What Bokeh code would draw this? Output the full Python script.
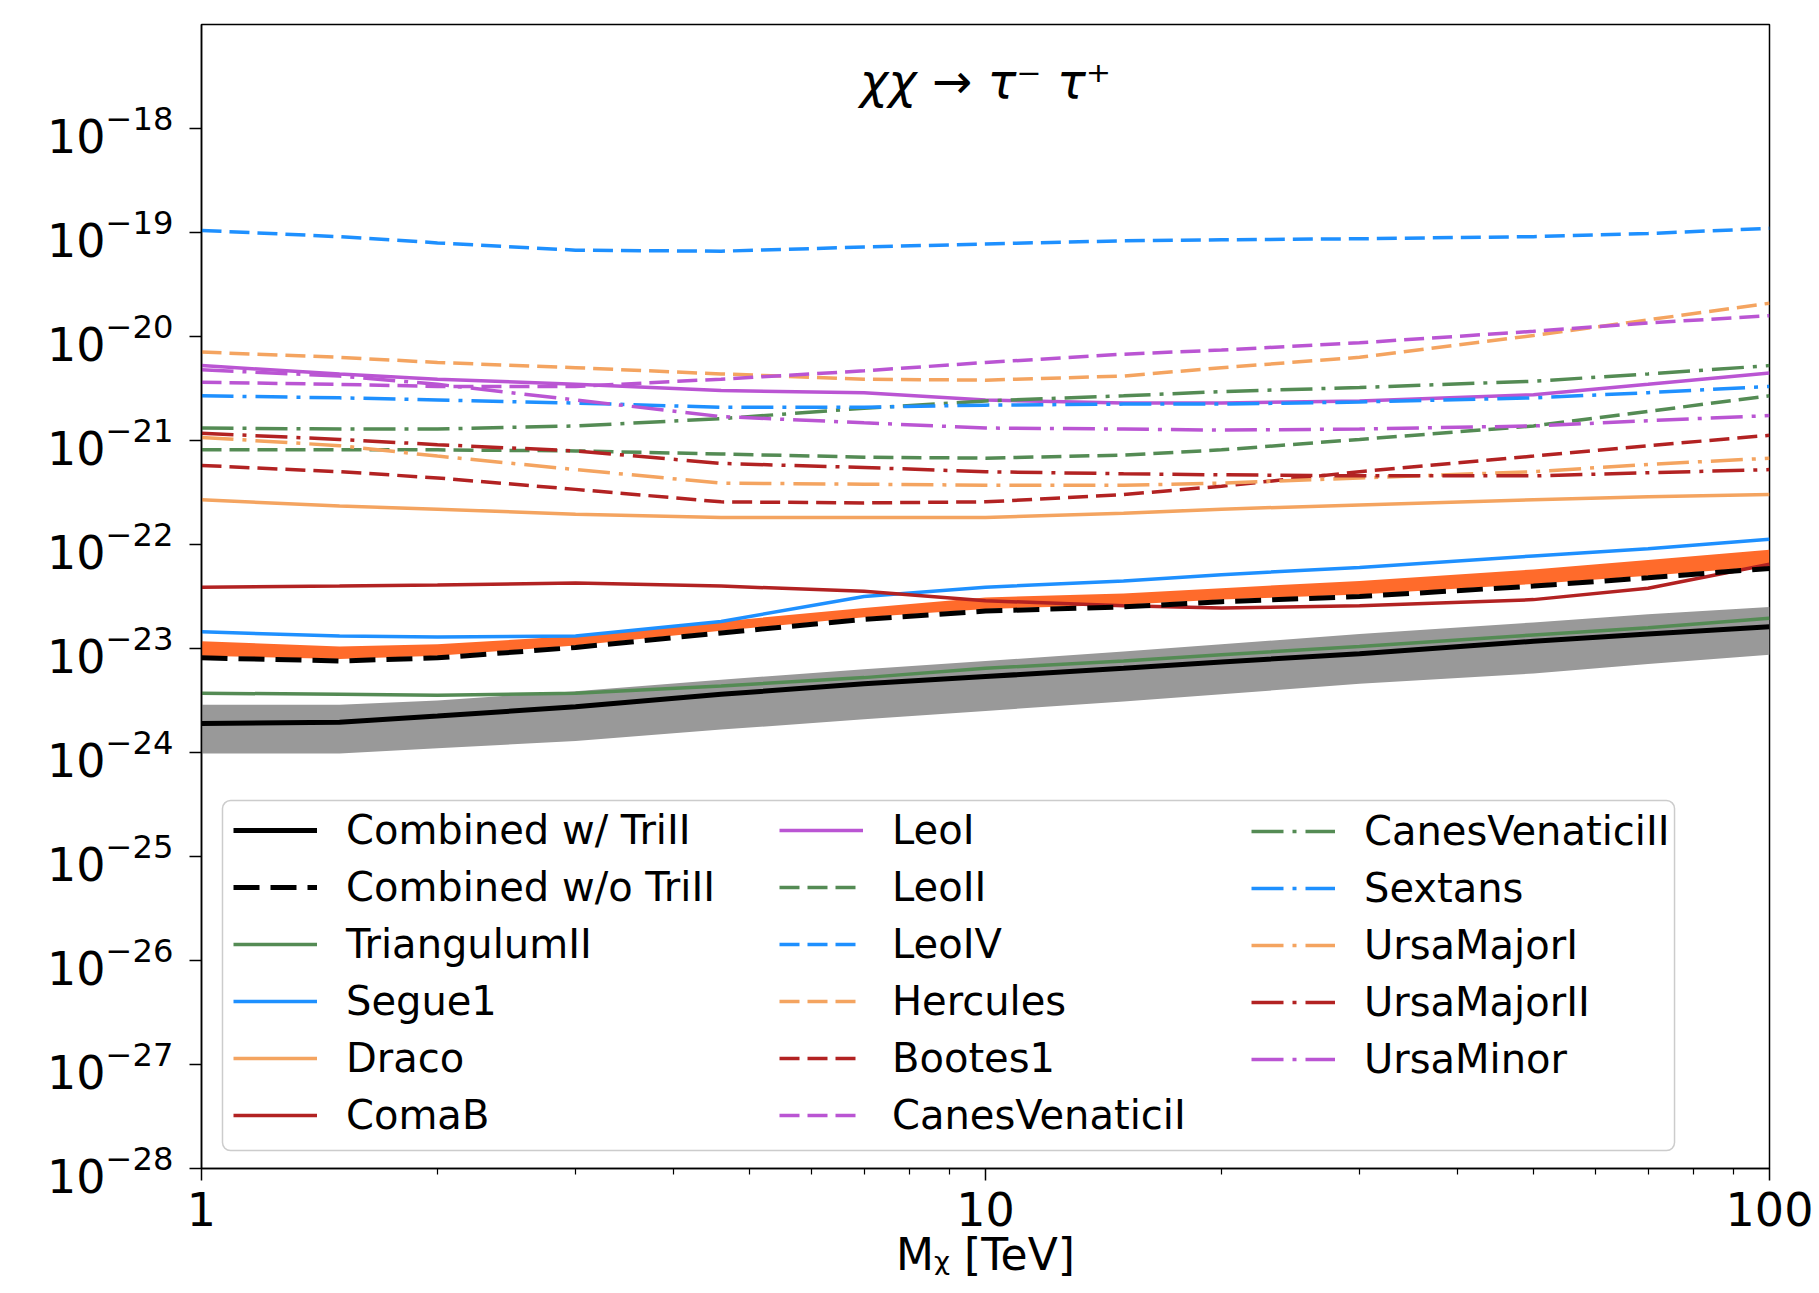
import numpy as np
from bokeh.plotting import figure
from bokeh.models import (Legend, LegendItem, FixedTicker, CustomJSTickFormatter, LogTickFormatter,
                          Label, BoxAnnotation, Range1d)
from bokeh.embed import file_html
from bokeh.resources import INLINE

# ---------------- data (log10 of <sigma v> [cm^3/s]) ----------------
mass_tev = [1, 1.5, 2, 3, 4.6, 7, 10, 15, 20, 30, 50, 70, 100]

combined_w_trii   = [-23.72, -23.71, -23.65, -23.56, -23.44, -23.34, -23.27, -23.19, -23.13, -23.05, -22.93, -22.86, -22.79]
combined_w_hi     = [-23.54, -23.54, -23.50, -23.41, -23.30, -23.20, -23.12, -23.03, -22.96, -22.86, -22.75, -22.67, -22.60]
combined_w_lo     = [-24.01, -24.01, -23.96, -23.89, -23.78, -23.68, -23.60, -23.51, -23.44, -23.34, -23.24, -23.15, -23.06]
combined_wo_trii  = [-23.09, -23.12, -23.09, -22.99, -22.85, -22.72, -22.64, -22.60, -22.55, -22.50, -22.40, -22.32, -22.23]
combined_wo_hi    = [-22.93, -22.98, -22.96, -22.88, -22.74, -22.61, -22.51, -22.47, -22.42, -22.35, -22.24, -22.15, -22.05]
combined_wo_lo    = [-23.07, -23.10, -23.07, -22.97, -22.83, -22.70, -22.62, -22.58, -22.53, -22.48, -22.38, -22.30, -22.21]

triangulum2   = [-23.43, -23.44, -23.45, -23.43, -23.36, -23.28, -23.19, -23.12, -23.06, -22.98, -22.87, -22.80, -22.71]
segue1        = [-22.84, -22.88, -22.89, -22.88, -22.74, -22.50, -22.41, -22.35, -22.29, -22.22, -22.11, -22.04, -21.95]
draco         = [-21.57, -21.63, -21.66, -21.71, -21.74, -21.74, -21.74, -21.70, -21.66, -21.62, -21.57, -21.54, -21.52]
comab         = [-22.41, -22.40, -22.39, -22.37, -22.40, -22.45, -22.54, -22.59, -22.61, -22.59, -22.53, -22.42, -22.19]
leo1          = [-20.28, -20.36, -20.41, -20.46, -20.52, -20.54, -20.61, -20.64, -20.64, -20.62, -20.56, -20.46, -20.35]
leo2          = [-21.09, -21.09, -21.09, -21.10, -21.13, -21.16, -21.17, -21.14, -21.09, -20.99, -20.86, -20.72, -20.57]
leo4          = [-18.98, -19.04, -19.10, -19.17, -19.18, -19.14, -19.11, -19.08, -19.07, -19.06, -19.04, -19.01, -18.96]
hercules      = [-20.15, -20.20, -20.25, -20.30, -20.36, -20.41, -20.42, -20.38, -20.30, -20.20, -19.99, -19.84, -19.68]
bootes1       = [-21.24, -21.30, -21.36, -21.47, -21.59, -21.60, -21.59, -21.52, -21.44, -21.30, -21.15, -21.05, -20.95]
canesven1     = [-20.44, -20.46, -20.48, -20.48, -20.41, -20.33, -20.25, -20.17, -20.13, -20.06, -19.95, -19.87, -19.80]
canesven2     = [-20.88, -20.89, -20.89, -20.86, -20.79, -20.69, -20.62, -20.57, -20.53, -20.49, -20.43, -20.36, -20.28]
sextans       = [-20.57, -20.59, -20.61, -20.64, -20.68, -20.68, -20.66, -20.65, -20.65, -20.63, -20.59, -20.54, -20.48]
ursamajor1    = [-20.97, -21.05, -21.15, -21.28, -21.41, -21.42, -21.43, -21.43, -21.41, -21.36, -21.30, -21.23, -21.17]
ursamajor2    = [-20.93, -20.99, -21.04, -21.10, -21.22, -21.26, -21.30, -21.32, -21.33, -21.34, -21.34, -21.31, -21.28]
ursaminor     = [-20.32, -20.38, -20.46, -20.61, -20.77, -20.83, -20.88, -20.89, -20.90, -20.89, -20.86, -20.81, -20.76]

x_ticks = [1, 10, 100]
x_minor = [2, 3, 4, 5, 6, 7, 8, 9, 20, 30, 40, 50, 60, 70, 80, 90]
y_tick_exponents = list(range(-28, -17))

title_text = "χχ → τ⁻ τ⁺"
xlabel_text = "Mᵪ [TeV]"

# ---------------- styles ----------------
GREEN = "#548B54"
BLUE = "#1E90FF"
ORANGE = "#F4A460"
RED = "#B22222"
PURPLE = "#BA55D3"
DASH = "20 8"
DASHDOT = "32 9 4 9"
FONT = "DejaVu Sans"
LW = 3.5

def pw(a):
    return 10.0 ** np.asarray(a, dtype=float)

p = figure(width=1819, height=1293, x_axis_type="log", y_axis_type="log",
           x_range=Range1d(1, 100), y_range=Range1d(1e-28, 1e-17),
           output_backend="svg", toolbar_location=None,
           min_border_left=201, min_border_right=50, min_border_top=24, min_border_bottom=125)
p.title.visible = False
p.xgrid.visible = False
p.ygrid.visible = False
p.outline_line_color = "black"
p.outline_line_width = 1.5
p.outline_line_alpha = 1.0
p.background_fill_color = "white"
p.border_fill_color = "white"

# bands
p.varea(x=mass_tev, y1=pw(combined_w_lo), y2=pw(combined_w_hi), fill_color="#999999", fill_alpha=1.0)
p.varea(x=mass_tev, y1=pw(combined_wo_lo), y2=pw(combined_wo_hi), fill_color="#FF6B2B", fill_alpha=1.0)

def ln(vals, color, dash="solid", width=LW):
    return p.line(mass_tev, pw(vals), line_color=color, line_width=width, line_dash=dash)

r_tri = ln(triangulum2, GREEN)
r_seg = ln(segue1, BLUE)
r_dra = ln(draco, ORANGE)
r_com = ln(comab, RED)
r_leo1 = ln(leo1, PURPLE)
r_leo2 = ln(leo2, GREEN, DASH)
r_leo4 = ln(leo4, BLUE, DASH)
r_her = ln(hercules, ORANGE, DASH)
r_boo = ln(bootes1, RED, DASH)
r_cv1 = ln(canesven1, PURPLE, DASH)
r_cv2 = ln(canesven2, GREEN, DASHDOT)
r_sex = ln(sextans, BLUE, DASHDOT)
r_um1 = ln(ursamajor1, ORANGE, DASHDOT)
r_um2 = ln(ursamajor2, RED, DASHDOT)
r_umi = ln(ursaminor, PURPLE, DASHDOT)
r_cwo = ln(combined_wo_trii, "black", "26 11", 5)
r_cw = ln(combined_w_trii, "black", "solid", 5)

# axes
for ax in (p.xaxis[0], p.yaxis[0]):
    ax.axis_line_color = "black"
    ax.axis_line_width = 1.5
    ax.major_tick_line_color = "black"
    ax.major_tick_line_width = 1.5
    ax.major_tick_in = 0
    ax.major_tick_out = 12
    ax.major_label_text_font = FONT
    ax.major_label_text_font_size = "46px"
    ax.major_label_text_color = "black"

p.xaxis.ticker = FixedTicker(ticks=x_ticks, minor_ticks=x_minor)
p.xaxis.minor_tick_in = 0
p.xaxis.minor_tick_out = 6
p.xaxis.minor_tick_line_width = 1.2
p.xaxis.minor_tick_line_color = "black"
p.xaxis.major_label_standoff = 11
p.xaxis.formatter = CustomJSTickFormatter(code="return Math.round(tick).toString();")
p.xaxis.axis_label = xlabel_text
p.xaxis.axis_label_standoff = 0
p.xaxis.axis_label_text_font = FONT
p.xaxis.axis_label_text_font_size = "44px"
p.xaxis.axis_label_text_font_style = "normal"
p.xaxis.axis_label_text_color = "black"

p.yaxis.ticker = FixedTicker(ticks=[10.0 ** k for k in y_tick_exponents], minor_ticks=[])
p.yaxis.minor_tick_line_color = None
p.yaxis.major_label_standoff = 16
p.yaxis.formatter = LogTickFormatter()

# title inside plot
p.add_layout(Label(x=10, y=10 ** -17.54, text=title_text, text_font=FONT,
                   text_font_style="italic", text_font_size="48px",
                   text_align="center", text_baseline="alphabetic", text_color="black"))

# legend frame
p.add_layout(BoxAnnotation(left=1.0636, right=75.66, top=10 ** -24.462, bottom=10 ** -27.827,
                           fill_color="white", fill_alpha=0.8, line_color="#cccccc",
                           line_width=1.5, line_alpha=1.0, border_radius=8))

cols = [
    ([("Combined w/ TriII", r_cw), ("Combined w/o TriII", r_cwo), ("TriangulumII", r_tri),
      ("Segue1", r_seg), ("Draco", r_dra), ("ComaB", r_com)], 32, 28),
    ([("LeoI", r_leo1), ("LeoII", r_leo2), ("LeoIV", r_leo4), ("Hercules", r_her),
      ("Bootes1", r_boo), ("CanesVenaticiI", r_cv1)], 578, 28),
    ([("CanesVenaticiII", r_cv2), ("Sextans", r_sex), ("UrsaMajorI", r_um1),
      ("UrsaMajorII", r_um2), ("UrsaMinor", r_umi)], 1050, 84),
]
for items, lx, ly in cols:
    leg = Legend(items=[LegendItem(label=t, renderers=[r]) for t, r in items],
                 location=(lx, ly), orientation="vertical", padding=0, margin=0,
                 spacing=7, glyph_width=84, glyph_height=50, label_height=50,
                 label_standoff=29, label_text_font=FONT, label_text_font_size="40px",
                 label_text_color="black", border_line_alpha=0, background_fill_alpha=0)
    p.add_layout(leg)

open("out.html", "w", encoding="utf-8").write(file_html(p, INLINE))
